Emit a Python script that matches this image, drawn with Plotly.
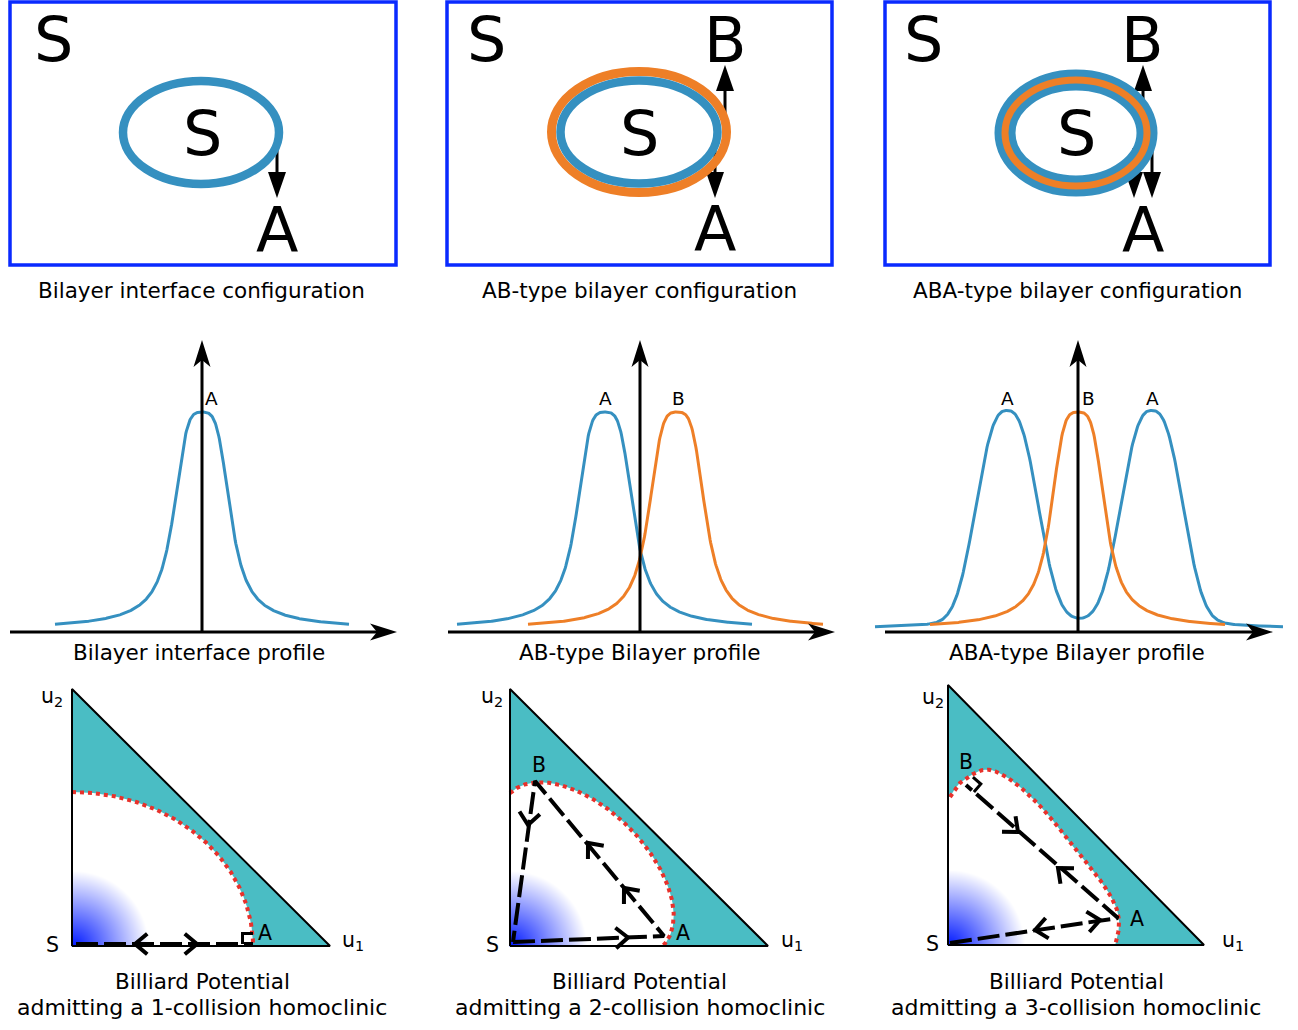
import numpy as np
import plotly.graph_objects as go

W, H = 1298, 1030
FONT = "DejaVu Sans"

BLUE = "#3590C0"
ORANGE = "#EE7F27"
BOX_BLUE = "#0A2AFF"
TEAL = "#4ABDC4"
RED = "#E8312B"
BLACK = "#000000"

# ---------------- Row 1: configuration sketches ----------------
config_captions = ["Bilayer interface configuration",
                   "AB-type bilayer configuration",
                   "ABA-type bilayer configuration"]
config_caption_x = [201, 639, 1077]
config_caption_y = 290
box_left = [10, 447, 885]
box_right = [396, 832, 1270]
box_top, box_bottom = 2, 265

ring_cx = [201, 639, 1076]
ring_cy = [132.5, 132, 133]
ring_rx = [[78], [87.5, 78.5], [71, 71]]
ring_ry = [[51.5], [60.5, 51.5], [53, 53]]
ring_lw = [[8.5], [9, 8.5], [21, 7]]
ring_col = [[BLUE], [ORANGE, BLUE], [BLUE, ORANGE]]

big_text = [["S", "S", "A"], ["S", "B", "S", "A"], ["S", "B", "S", "A"]]
big_x = [[53, 202, 277], [486, 725, 639, 715], [923, 1142.5, 1076, 1143]]
big_y = [[39.5, 133.5, 230], [39.5, 40, 133, 229.5], [39, 40, 133, 230]]

arrow_x = [[277], [725, 715], [1143, 1134, 1152]]
arrow_from = [[148], [117, 148], [117, 148, 148]]
arrow_to = [[198], [65, 198], [65, 198, 198]]

# ---------------- Row 2: profiles ----------------
profile_captions = ["Bilayer interface profile", "AB-type Bilayer profile",
                    "ABA-type Bilayer profile"]
profile_caption_x = [199, 640, 1077]
profile_caption_y = 652.5
axis_y = 632
axis_top = 340
xaxis_left = [10, 448, 885]
xaxis_tip = [397, 835, 1273]
yaxis_x = [202, 640, 1078]
curve_base = 629
curve_amp = 217

peak_color = [BLUE, BLUE, ORANGE, BLUE, ORANGE]
peak_centres = [[202], [605], [677], [1007, 1152], [1078]]
peak_width = [28, 28, 28, 33, 27]
peak_power = [4, 4, 4, 2.6, 4]
peak_tail = [0.2, 0.2, 0.2, 0.05, 0.2]
peak_gauss = [False, False, False, True, False]
curve_x0 = [55, 457, 528, 875, 930]
curve_x1 = [349, 752, 823, 1283, 1225]
peak_labels = [["A"], ["A"], ["B"], ["A", "A"], ["B"]]
peak_label_dx = [9, 0, 1, 0, 10]
peak_label_y = 398.8

# ---------------- Row 3: billiard potentials ----------------
bill_caption1 = "Billiard Potential"
bill_caption2 = ["admitting a 1-collision homoclinic",
                 "admitting a 2-collision homoclinic",
                 "admitting a 3-collision homoclinic"]
bill_caption_x = [202, 639.5, 1076]
bill_caption_y = [981, 1007.6]
tri_sx = [72, 510, 948]
tri_sy = [946, 946, 945]
tri_h = [257, 257, 260]
tri_w = [258, 258, 256]
glow_radius = 76

# wall curve of panel 1: quarter ellipse (rx, ry)
wall1_r = (181, 154)
# wall curve of panel 2: ellipse on the diagonal (centre, half-axis along diagonal, half-axis across)
wall2_u = (108, 60, 108)
# wall curve of panel 3: points (x right, y up, from S)
wall3_x = [2, 12, 35, 55, 79, 102, 122, 142, 159, 169, 171, 167]
wall3_y = [148, 162, 175, 170, 152, 128, 102, 78, 55, 35, 18, -1]

# trajectories (x right, y up, from S)
path_x = [[4, 181], [3, 154, 25, 3], [2, 170, 18]]
path_y = [[2, 2], [4, 10, 165, 4], [2, 27, 160]]
# chevrons: tip and the segment (start index -> end index) giving its direction
chev_x = [[63, 125], [118, 78, 114, 18], [152, 87, 70, 110]]
chev_y = [[2, 2], [8.5, 103, 58, 121], [25, 15, 113, 77]]
chev_seg = [[(1, 0), (0, 1)], [(0, 1), (1, 2), (1, 2), (2, 3)],
            [(0, 1), (1, 0), (2, 1), (1, 2)]]
# right-angle marks: (path index of the collision point, index of the point it comes from)
right_angle = [(1, 0), None, (2, 1)]

bill_labels = [["S", "u<sub>2</sub>", "A", "u<sub>1</sub>"],
               ["S", "u<sub>2</sub>", "B", "A", "u<sub>1</sub>"],
               ["S", "u<sub>2</sub>", "B", "A", "u<sub>1</sub>"]]
bill_label_x = [[52.7, 52, 265, 353], [492, 492, 539, 683, 792],
                [932, 933, 966, 1137, 1233]]
bill_label_y = [[944.6, 697, 933, 941], [944.6, 697, 764.6, 933, 941],
                [944, 698, 762, 919, 941]]

# ======================================================================
fig = go.Figure()
shapes = []
annotations = []


def text(t, x, y, size):
    annotations.append(dict(text=t, x=x, y=y, xref="x", yref="y", showarrow=False,
                            xanchor="center", yanchor="middle",
                            font=dict(family=FONT, size=size, color=BLACK)))


def line(xs, ys, color=BLACK, width=3, dash=None):
    fig.add_trace(go.Scatter(
        x=list(xs), y=list(ys), mode="lines", hoverinfo="skip",
        line=dict(color=color, width=width, dash=dash)))


def poly(xs, ys, color):
    fig.add_trace(go.Scatter(x=list(xs) + [xs[0]], y=list(ys) + [ys[0]], mode="lines",
                             hoverinfo="skip", line=dict(color=color, width=0),
                             fill="toself", fillcolor=color))


def stealth(tip, d, L=27, hw=8.5, notch=20):
    d = np.array(d, float) / np.hypot(*d)
    n = np.array([-d[1], d[0]])
    t = np.array(tip, float)
    pts = [t, t - L * d + hw * n, t - notch * d, t - L * d - hw * n]
    poly([p[0] for p in pts], [p[1] for p in pts], BLACK)


def catmull_rom(px, py, n=24):
    P = np.column_stack([px, py]).astype(float)
    P = np.vstack([2 * P[0] - P[1], P, 2 * P[-1] - P[-2]])
    out = []
    t = np.linspace(0, 1, n, endpoint=False)[:, None]
    for i in range(1, len(P) - 2):
        p0, p1, p2, p3 = P[i - 1], P[i], P[i + 1], P[i + 2]
        out.append(0.5 * (2 * p1 + (-p0 + p2) * t + (2 * p0 - 5 * p1 + 4 * p2 - p3) * t ** 2
                          + (-p0 + 3 * p1 - 3 * p2 + p3) * t ** 3))
    out.append(P[-2][None, :])
    A = np.vstack(out)
    return A[:, 0], A[:, 1]


# ---------------- Row 1 ----------------
for i in range(3):
    shapes.append(dict(type="rect", xref="x", yref="y", x0=box_left[i], x1=box_right[i],
                       y0=box_top, y1=box_bottom, line=dict(color=BOX_BLUE, width=3.5)))
    for rx, ry, lw, c in zip(ring_rx[i], ring_ry[i], ring_lw[i], ring_col[i]):
        shapes.append(dict(type="circle", xref="x", yref="y",
                           x0=ring_cx[i] - rx, x1=ring_cx[i] + rx,
                           y0=ring_cy[i] - ry, y1=ring_cy[i] + ry,
                           line=dict(color=c, width=lw)))
    for t, x, y in zip(big_text[i], big_x[i], big_y[i]):
        text(t, x, y, 62)
    text(config_captions[i], config_caption_x[i], config_caption_y, 21.5)

for i in range(3):
    for x, y0, y1 in zip(arrow_x[i], arrow_from[i], arrow_to[i]):
        sgn = 1 if y1 > y0 else -1
        head = 26
        line([x, x], [y0, y1 - sgn * head + sgn * 2], width=3)
        poly([x, x - 9, x + 9], [y1, y1 - sgn * head, y1 - sgn * head], BLACK)

# ---------------- Row 2 ----------------


def profile(d, w, p, tail, gauss):
    if gauss:
        core = np.exp(-np.log(2) * np.abs(d / w) ** p)
    else:
        core = 1 / (1 + np.abs(d / w) ** p)
    return (1 - tail) * core + tail / (1 + (d / (1.8 * w)) ** 2)


for k in range(5):
    xs = np.linspace(curve_x0[k], curve_x1[k], 500)
    f = sum(profile(xs - c, peak_width[k], peak_power[k], peak_tail[k], peak_gauss[k])
            for c in peak_centres[k])
    ys = curve_base - curve_amp * f
    line(xs, ys, color=peak_color[k], width=3)
    for lab, c in zip(peak_labels[k], peak_centres[k]):
        text(lab, c + peak_label_dx[k], peak_label_y, 18.5)

for i in range(3):
    line([xaxis_left[i], xaxis_tip[i] - 18], [axis_y, axis_y], width=3)
    stealth((xaxis_tip[i], axis_y), (1, 0))
    line([yaxis_x[i], yaxis_x[i]], [axis_y, axis_top + 18], width=3)
    stealth((yaxis_x[i], axis_top), (0, -1))
    text(profile_captions[i], profile_caption_x[i], profile_caption_y, 21.5)

# ---------------- Row 3 ----------------
for i in range(3):
    sx, sy = tri_sx[i], tri_sy[i]
    # blue glow at S
    r = np.arange(0, glow_radius + 1)
    GX, GY = np.meshgrid(r, r)
    R = np.hypot(GX, GY)
    Z = np.where(R <= glow_radius, R / glow_radius, np.nan)
    fig.add_trace(go.Heatmap(x=sx + r, y=sy - r, z=Z, zmin=0, zmax=1, showscale=False,
                             hoverinfo="skip", zsmooth="best",
                             colorscale=[[0, "rgb(0,24,255)"], [0.5, "rgb(128,140,255)"],
                                         [1, "rgb(255,255,255)"]]))

    # wall curve (relative coordinates)
    if i == 0:
        t = np.linspace(np.pi / 2, 0, 200)
        wx, wy = wall1_r[0] * np.cos(t), wall1_r[1] * np.sin(t)
    elif i == 1:
        u0, a, b = wall2_u
        t = np.linspace(-np.pi / 2, np.pi / 2, 300)
        u, v = u0 + a * np.cos(t), b * np.sin(t)
        wx, wy = (u + v) / np.sqrt(2), (u - v) / np.sqrt(2)
    else:
        wx, wy = catmull_rom(wall3_x, wall3_y)
    X = sx + wx
    Y = sy - wy
    # teal region between wall and hypotenuse
    fx = [sx, sx] + list(X) + [sx + tri_w[i]]
    fy = [sy - tri_h[i], Y[0]] + list(Y) + [sy]
    poly(fx, fy, TEAL)
    line(X, Y, color=RED, width=4, dash="4px,4px")

    # triangle edges
    line([sx, sx, sx + tri_w[i], sx], [sy, sy - tri_h[i], sy, sy], width=2)

    # trajectory
    PX = [sx + v for v in path_x[i]]
    PY = [sy - v for v in path_y[i]]
    line(PX, PY, width=4, dash="22px,6px")
    for (cx, cy, (a0, a1)) in zip(chev_x[i], chev_y[i], chev_seg[i]):
        d = np.array([PX[a1] - PX[a0], PY[a1] - PY[a0]], float)
        d /= np.hypot(*d)
        tip = np.array([sx + cx, sy - cy])
        L, th = 16, np.radians(40)
        rot = lambda v, a: np.array([v[0] * np.cos(a) - v[1] * np.sin(a),
                                     v[0] * np.sin(a) + v[1] * np.cos(a)])
        p1 = tip - L * rot(d, th)
        p2 = tip - L * rot(d, -th)
        line([p1[0], tip[0], p2[0]], [p1[1], tip[1], p2[1]], width=4)
    if right_angle[i] is not None:
        pc, pf = right_angle[i]
        P = np.array([PX[pc], PY[pc]], float)
        d = np.array([PX[pf] - PX[pc], PY[pf] - PY[pc]], float)
        d /= np.hypot(*d)
        tg = np.array([d[1], -d[0]])
        if tg[1] > 0:
            tg = -tg
        s = 10.5
        q1, q2, q3 = P + s * d, P + s * d + s * tg, P + s * tg
        line([q1[0], q2[0], q3[0]], [q1[1], q2[1], q3[1]], width=3)

    for t_, x, y in zip(bill_labels[i], bill_label_x[i], bill_label_y[i]):
        text(t_, x, y, 20.5)
    text(bill_caption1, bill_caption_x[i], bill_caption_y[0], 21.5)
    text(bill_caption2[i], bill_caption_x[i], bill_caption_y[1], 22)

fig.update_layout(
    width=W, height=H, margin=dict(l=0, r=0, t=0, b=0),
    paper_bgcolor="white", plot_bgcolor="white", showlegend=False,
    xaxis=dict(range=[0, W], visible=False, fixedrange=True),
    yaxis=dict(range=[H, 0], visible=False, fixedrange=True),
    shapes=shapes, annotations=annotations,
)
fig.write_html("out.html", config={"displayModeBar": False},
               post_script="document.body.style.margin='0';document.body.style.overflow='hidden';")
